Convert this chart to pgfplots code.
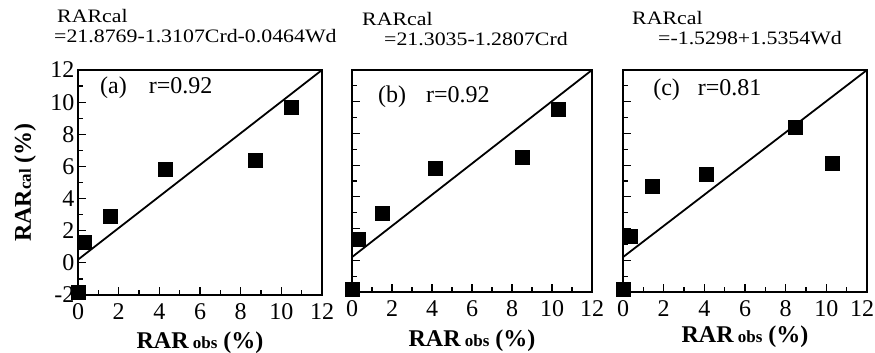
\documentclass[border=0pt]{standalone}
\usepackage{fontspec}
\setmainfont{Liberation Serif}
\usepackage{pgfplots}
\pgfplotsset{compat=1.18}
\pgfplotsset{
  panel/.style={
    scale only axis,
    xmin=0, xmax=12, ymin=-2, ymax=12,
    xtick={0,2,...,12}, ytick={-2,0,...,12},
    minor x tick num=1, minor y tick num=1,
    xtick pos=bottom, ytick pos=left,
    tick align=inside,
    major tick length=8pt, minor tick length=5pt,
    axis line style={line width=1.6pt},
    every tick/.style={black, line width=1.2pt},
    xticklabel style={font=\fontsize{24}{26}\selectfont, yshift=-5pt},
    yticklabel style={font=\fontsize{24}{26}\selectfont},
    /pgf/number format/assume math mode=true,
    clip=false,
    xlabel={\textbf{RAR}\,{\fontsize{17}{19}\selectfont\textbf{obs}}\ \textbf{(\%)}},
    xlabel style={font=\fontsize{24}{26}\selectfont, at={(axis description cs:0.5,0)}, anchor=base},
  },
  pts/.style={only marks, mark=square*, mark size=7pt, black},
  ref/.style={black, line width=1.8pt, no marks},
}
\begin{document}
\begin{tikzpicture}
\useasboundingbox (0,0) rectangle (875pt,353pt);
% Panel (a)
\begin{axis}[panel, at={(78pt,58pt)}, anchor=south west, width=244pt, height=225pt,
  xlabel style={yshift=-53pt},
  ylabel={\textbf{RAR}{\fontsize{17}{19}\selectfont\textbf{cal}}\ \textbf{(\%)}},
  ylabel style={font=\fontsize{24}{26}\selectfont, at={(axis description cs:-0.217,0.5)}, anchor=center}]
\addplot[ref] coordinates {(0,0.2) (12,12)};
\addplot[pts] coordinates {(0,-1.8) (0.3,1.3) (1.6,2.9) (4.3,5.8) (8.7,6.4) (10.5,9.7)};
\node[anchor=west, font=\fontsize{24}{26}\selectfont, inner sep=0pt] at (axis cs:1.08,10.9) {(a)\hspace{22pt}r=0.92};
\end{axis}
% Panel (b)
\begin{axis}[panel, at={(352pt,61pt)}, anchor=south west, width=240pt, height=222pt,
  xlabel style={yshift=-54pt},
  yticklabels={}]
\addplot[ref] coordinates {(0,0.2) (12,12)};
\addplot[pts] coordinates {(0,-1.8) (0.3,1.3) (1.5,3.0) (4.15,5.8) (8.5,6.5) (10.3,9.5)};
\node[anchor=west, font=\fontsize{24}{26}\selectfont, inner sep=0pt] at (axis cs:1.3,10.3) {(b)\hspace{20pt}r=0.92};
\end{axis}
% Panel (c)
\begin{axis}[panel, at={(623pt,61pt)}, anchor=south west, width=244pt, height=222pt,
  xlabel style={yshift=-51pt},
  xticklabels={0,2,4,6,8,10,{\hspace*{-10pt}12}},
  yticklabels={}]
\addplot[ref] coordinates {(0,0.2) (12,12)};
\addplot[pts] coordinates {(0,-1.8) (0.35,1.5) (1.45,4.7) (4.1,5.45) (8.45,8.4) (10.3,6.1)};
\node[anchor=west, font=\fontsize{24}{26}\selectfont, inner sep=0pt] at (axis cs:1.48,10.75) {(c)\hspace{18pt}r=0.81};
\end{axis}
% Headers
\begin{scope}[every node/.style={font=\fontsize{19}{21}\selectfont, anchor=base west, inner sep=0pt, xscale=1.15}]
\node at (57pt,330pt) {RARcal};
\node at (54pt,310pt) {=21.8769-1.3107Crd-0.0464Wd};
\node at (362pt,327pt) {RARcal};
\node at (384pt,307pt) {=21.3035-1.2807Crd};
\node at (632pt,328pt) {RARcal};
\node at (658pt,308pt) {=-1.5298+1.5354Wd};
\end{scope}
\end{tikzpicture}
\end{document}
